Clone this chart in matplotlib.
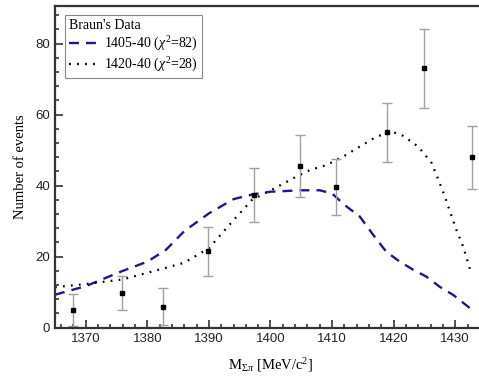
import matplotlib
matplotlib.use('Agg')
import matplotlib.pyplot as plt
import numpy as np
from matplotlib.ticker import MultipleLocator

# Braun's data points
mass = [1368.0, 1375.9, 1382.6, 1389.8, 1397.4, 1404.8, 1410.7, 1419.0, 1425.0, 1432.7]
events = [5.0, 9.7, 5.9, 21.5, 37.4, 45.6, 39.6, 55.0, 73.0, 48.0]
errors = [4.4, 4.8, 5.2, 7.0, 7.5, 8.8, 8.0, 8.2, 11.0, 8.8]

# fit 1405-40
m1 = [1365, 1370, 1376, 1380, 1383, 1386, 1390, 1394, 1397, 1400, 1405, 1408, 1410,
      1412, 1414.5, 1416.7, 1418.8, 1421, 1423.2, 1425.3, 1427.5, 1429.7, 1432.4]
y1 = [9.3, 11.7, 16.0, 18.6, 21.9, 27.2, 32.2, 36.2, 37.5, 38.3, 38.7, 38.7, 37.8,
      34.6, 31.3, 26.1, 21.4, 18.6, 16.3, 14.4, 11.5, 9.2, 5.5]

# fit 1420-40
m2 = [1365, 1370, 1376, 1382, 1386, 1390, 1394, 1397, 1400.7, 1403.7, 1406.4, 1409.1,
      1411.8, 1414.5, 1417.2, 1419.7, 1421.3, 1424, 1426.2, 1428.2, 1430.2, 1431.3, 1432.6]
y2 = [11.4, 12.3, 13.6, 16.4, 18.3, 22.4, 30.3, 36.0, 39.3, 42.1, 44.4, 45.8,
      48.2, 51.0, 53.8, 55.2, 54.3, 51.0, 46.3, 37.5, 27.5, 22.8, 15.3]

serif = ['Liberation Serif', 'DejaVu Serif']
sans = ['Liberation Sans', 'DejaVu Sans']

plt.rcParams['mathtext.fontset'] = 'custom'
plt.rcParams['mathtext.rm'] = 'Liberation Serif'
plt.rcParams['mathtext.it'] = 'Liberation Serif:italic'

fig = plt.figure(figsize=(4.79, 3.79), dpi=100)
ax = fig.add_axes([55/479, 51.3/379, 431/479, 321.7/379])

ax.plot(m1, y1, color='#1a1a8c', lw=1.7, dashes=(4.2, 3), label=r'1405-40 ($\chi^2$=82)')
ax.plot(m2, y2, color='black', lw=1.6, dashes=(0.8, 2.8), label=r'1420-40 ($\chi^2$=28)')
ax.errorbar(mass, events, yerr=errors, fmt='s', color='black', ms=3.2,
            ecolor='#a0a0a0', elinewidth=1, capsize=3.5, capthick=1)

ax.set_xlim(1365, 1435)
ax.set_ylim(0, 90.6)
ax.xaxis.set_major_locator(MultipleLocator(10))
ax.xaxis.set_minor_locator(MultipleLocator(2))
ax.yaxis.set_major_locator(MultipleLocator(20))
ax.yaxis.set_minor_locator(MultipleLocator(4))
ax.tick_params(which='both', direction='in', top=False, right=False, width=1.2, colors='#333333')
ax.tick_params(which='major', length=6, labelsize=9.5, labelcolor='#222222')
ax.tick_params(which='minor', length=3)
for lab in ax.get_xticklabels() + ax.get_yticklabels():
    lab.set_family(sans)
for s in ['left', 'bottom', 'top']:
    ax.spines[s].set_linewidth(1.6)
    ax.spines[s].set_color('#333333')
ax.spines['right'].set_visible(False)

ax.set_ylabel('Number of events', family=serif, fontsize=10.5, labelpad=6)
ax.set_xlabel(r'M$_{\Sigma\pi}$ [MeV/c$^2$]', family=serif, fontsize=10.5, labelpad=8)

leg = ax.legend(loc='upper left', bbox_to_anchor=(10/431, 1 - 9/321.7), borderaxespad=0,
                title="Braun's Data",
                prop={'family': serif, 'size': 10}, title_fontproperties={'family': serif, 'size': 10},
                fancybox=False, edgecolor='#888888', handlelength=2.2, handletextpad=0.3,
                borderpad=0.3, labelspacing=0.2, framealpha=1)
leg._legend_box.align = 'left'
leg.get_frame().set_linewidth(0.8)

fig.savefig('out.png', dpi=100)
